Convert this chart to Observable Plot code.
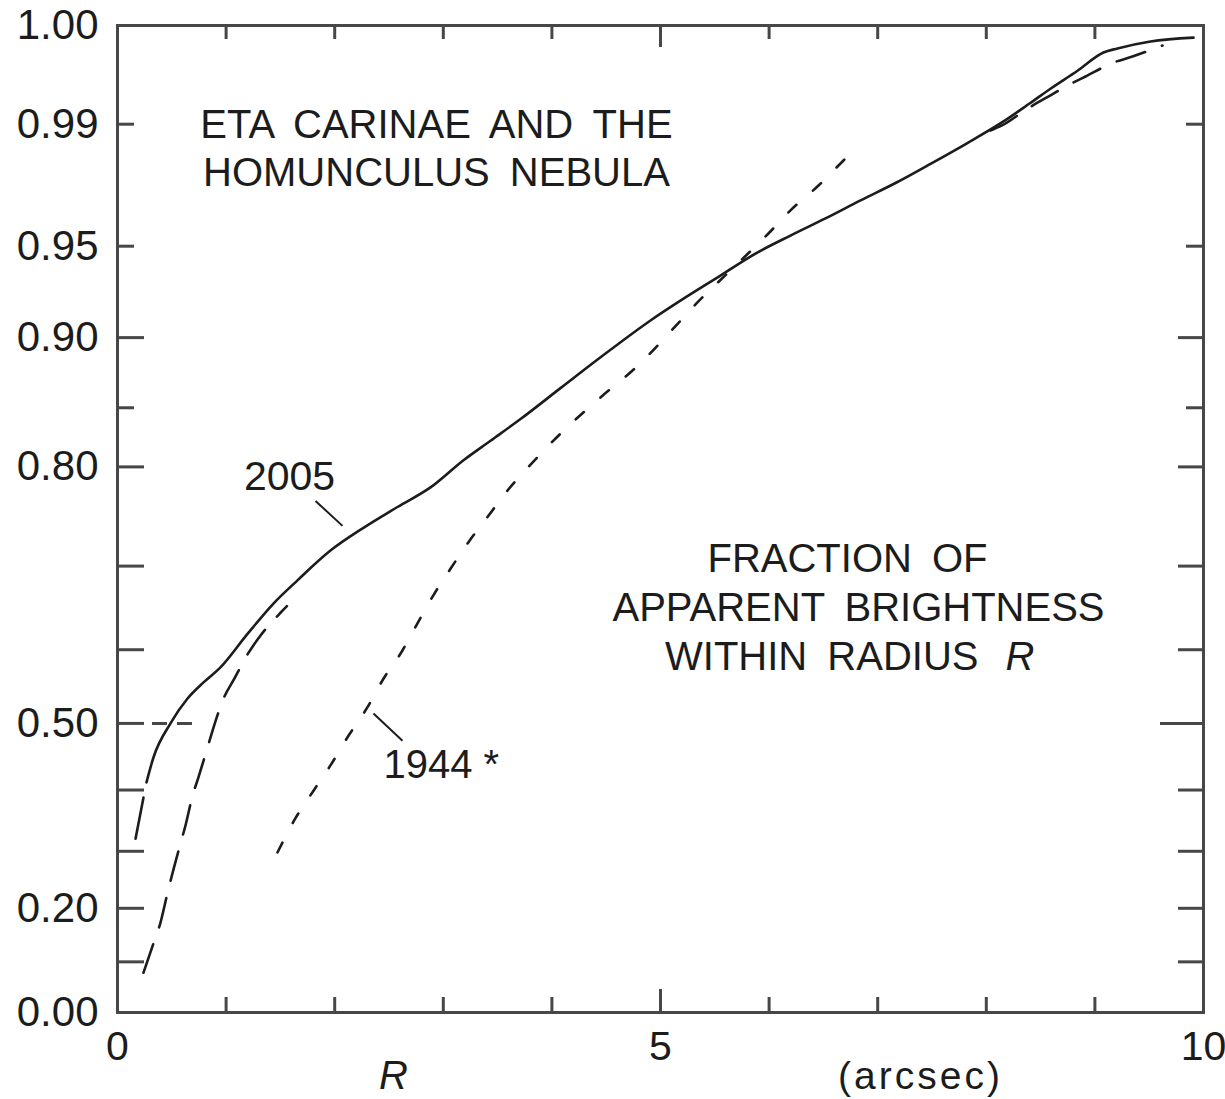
<!DOCTYPE html>
<html>
<head>
<meta charset="utf-8">
<script src="https://cdn.jsdelivr.net/npm/d3@7"></script>
<script src="https://cdn.jsdelivr.net/npm/@observablehq/plot@0.6"></script>
<style>
  html, body { margin: 0; padding: 0; background: #ffffff; }
  #chart svg { display: block; }
</style>
</head>
<body>
<div id="chart"></div>
<script>
// ---------------- data ----------------
// 2005 profile (solid)
const r2005 = [0.267, 0.331, 0.488, 0.645, 0.792, 0.948, 1.197, 1.436, 1.657, 1.961, 2.265, 2.578, 2.882, 3.186, 3.435, 3.711, 4.079, 4.448, 4.908, 5.230, 5.552, 5.875, 6.197, 6.519, 6.842, 7.173, 7.495, 7.818, 8.140, 8.398, 8.591, 8.840, 9.079, 9.208, 9.512, 9.908];
const f2005 = [0.412, 0.450, 0.500, 0.535, 0.557, 0.577, 0.620, 0.657, 0.684, 0.717, 0.741, 0.762, 0.781, 0.806, 0.823, 0.841, 0.865, 0.887, 0.9107, 0.9241, 0.9358, 0.9466, 0.9547, 0.9618, 0.9686, 0.9747, 0.9805, 0.9857, 0.9903, 0.99375, 0.9959, 0.9979, 0.99925, 0.99946, 0.99974, 0.99985];
// 2005 profile, extrapolated inner part (dashed)
const r2005ext = [0.166, 0.239, 0.267];
const f2005ext = [0.321, 0.388, 0.412];
// long-dashed profile, visible inner part
const rDashLow = [0.239, 0.331, 0.396, 0.460, 0.506, 0.580, 0.626, 0.691, 0.746, 0.829, 0.884, 0.976, 1.068, 1.206, 1.317, 1.501, 1.560];
const fDashLow = [0.079, 0.135, 0.174, 0.227, 0.262, 0.313, 0.343, 0.391, 0.420, 0.465, 0.494, 0.535, 0.560, 0.596, 0.618, 0.646, 0.654];
// long-dashed profile, visible outer part
const rDashHigh = [8.039, 8.140, 8.379, 8.591, 8.748, 8.914, 9.171, 9.346, 9.622];
const fDashHigh = [0.9887, 0.9897, 0.9929, 0.9950, 0.9963, 0.99733, 0.99859, 0.99901, 0.99959];
// 1944 profile (dotted)
const r1944 = [1.473, 1.639, 1.805, 1.961, 2.118, 2.302, 2.449, 2.624, 2.762, 2.910, 3.066, 3.232, 3.407, 3.591, 3.775, 4.079, 4.448, 4.816, 5.101, 5.331, 5.663, 5.994, 6.197, 6.455, 6.685, 6.750];
const f1944 = [0.298, 0.355, 0.399, 0.438, 0.480, 0.523, 0.562, 0.599, 0.633, 0.667, 0.697, 0.726, 0.752, 0.778, 0.799, 0.829, 0.858, 0.883, 0.9045, 0.9207, 0.9394, 0.9556, 0.9649, 0.9737, 0.9813, 0.9832];

// ticks
const yLabelTicks = [0.00, 0.20, 0.50, 0.80, 0.90, 0.95, 0.99, 1.00];
const yLongTicks = [0.1, 0.2, 0.3, 0.4, 0.5, 0.6, 0.7, 0.8, 0.9];
const yShortTicks = [0.85, 0.95, 0.99];
const xLabelTicks = [0, 5, 10];
const xMinorTicks = [1, 2, 3, 4, 6, 7, 8, 9];
const xMajorTicks = [5];

// annotations (data units)
const halfLevel = 0.5, halfFrom = 0.322, halfTo = 0.70;
const label2005 = {x: 1.584, f: 0.791, text: "2005"};
const leader2005 = {x1: 1.823, f1: 0.768, x2: 2.072, f2: 0.743};
const label1944 = {x: 2.449, f: 0.438, text: "1944 *"};
const leader1944 = {x1: 2.357, f1: 0.514, x2: 2.624, f2: 0.475};
const titleText = {x: 2.937, f: 0.98497, text: "ETA CARINAE AND THE\nHOMUNCULUS NEBULA"};
const noteLines = [
  {x: 6.722, f: 0.708, text: "FRACTION OF"},
  {x: 6.823, f: 0.652, text: "APPARENT BRIGHTNESS"}
];
const noteLast = {x: 7.928, f: 0.590, text: "WITHIN RADIUS"};
const noteR = {x: 8.177, f: 0.590, text: "R"};
const xNameR = {x: 2.541, text: "R"};
const xUnit = {x: 7.394, text: "(arcsec)"};

// ---------------- layout ----------------
const W = 1225, H = 1099;
const M = {top: 25, right: 22, bottom: 87, left: 117};
const FW = W - M.left - M.right;   // frame width
const FH = H - M.top - M.bottom;   // frame height
const ink = "#1c1c1c";
const frameInk = "#474747";
const font = "'Liberation Sans', Arial, Helvetica, sans-serif";

// y axis: scale is linear in sqrt(1 - fraction)
const q = f => 1 - f;
const pts = (rs, fs) => rs.map((r, i) => ({r, f: fs[i]}));

const chart = Plot.plot({
  width: W,
  height: H,
  marginTop: M.top,
  marginRight: M.right,
  marginBottom: M.bottom,
  marginLeft: M.left,
  x: {domain: [0, 10]},
  y: {type: "pow", exponent: 0.5, domain: [1, 0]},
  style: {fontFamily: font, background: "#ffffff", color: ink},
  marks: [
    // tick marks (inward), left and right
    Plot.ruleY(yLongTicks, {y: q, insetRight: FW - 27, stroke: frameInk, strokeWidth: 3}),
    Plot.ruleY(yShortTicks, {y: q, insetRight: FW - 17, stroke: frameInk, strokeWidth: 3}),
    Plot.ruleY(yLongTicks.filter(t => t !== halfLevel), {y: q, insetLeft: FW - 25, stroke: frameInk, strokeWidth: 3}),
    Plot.ruleY([halfLevel], {y: q, insetLeft: FW - 43, stroke: frameInk, strokeWidth: 3}),
    Plot.ruleY(yShortTicks, {y: q, insetLeft: FW - 17, stroke: frameInk, strokeWidth: 3}),
    // x ticks bottom / top
    Plot.ruleX(xMinorTicks, {insetTop: FH - 15, stroke: frameInk, strokeWidth: 3}),
    Plot.ruleX(xMajorTicks, {insetTop: FH - 23, stroke: frameInk, strokeWidth: 3}),
    Plot.ruleX(xMinorTicks, {insetBottom: FH - 14, stroke: frameInk, strokeWidth: 3}),
    Plot.ruleX(xMajorTicks, {insetBottom: FH - 22, stroke: frameInk, strokeWidth: 3}),
    // dashed reference at 0.50
    Plot.ruleY([halfLevel], {y: q, x1: halfFrom, x2: halfTo, stroke: frameInk, strokeWidth: 3, strokeDasharray: "15,10"}),
    Plot.frame({stroke: frameInk, strokeWidth: 3}),
    // axes labels
    Plot.axisY(yLabelTicks.map(q), {
      anchor: "left", tickSize: 0, tickPadding: 19, fontSize: 42, label: null,
      tickFormat: v => (1 - v).toFixed(2), fill: ink
    }),
    Plot.axisX(xLabelTicks, {anchor: "bottom", tickSize: 0, tickPadding: 18, fontSize: 41, label: null, fill: ink}),
    // curves
    Plot.line(pts(rDashLow, fDashLow), {x: "r", y: d => q(d.f), curve: "monotone-x", stroke: ink, strokeWidth: 2.6, strokeDasharray: "30,18"}),
    Plot.line(pts(rDashHigh, fDashHigh), {x: "r", y: d => q(d.f), curve: "monotone-x", stroke: ink, strokeWidth: 2.6, strokeDasharray: "30,18"}),
    Plot.line(pts(r1944, f1944), {x: "r", y: d => q(d.f), curve: "monotone-x", stroke: ink, strokeWidth: 2.6, strokeDasharray: "11,22"}),
    Plot.line(pts(r2005ext, f2005ext), {x: "r", y: d => q(d.f), curve: "monotone-x", stroke: ink, strokeWidth: 2.6, strokeDasharray: "42,20"}),
    Plot.line(pts(r2005, f2005), {x: "r", y: d => q(d.f), curve: "monotone-x", stroke: ink, strokeWidth: 2.6}),
    // leaders
    Plot.link([leader2005, leader1944], {x1: "x1", y1: d => q(d.f1), x2: "x2", y2: d => q(d.f2), stroke: ink, strokeWidth: 2}),
    // labels
    Plot.text([label2005], {x: "x", y: d => q(d.f), text: "text", fontSize: 41, fill: ink, lineAnchor: "middle"}),
    Plot.text([label1944], {x: "x", y: d => q(d.f), text: "text", fontSize: 40, fill: ink, textAnchor: "start", lineAnchor: "middle"}),
    Plot.text([titleText], {x: "x", y: d => q(d.f), text: "text", fontSize: 40, fill: ink, lineAnchor: "middle", lineHeight: 1.2}),
    Plot.text(noteLines, {x: "x", y: d => q(d.f), text: "text", fontSize: 40, fill: ink, lineAnchor: "middle"}),
    Plot.text([noteLast], {x: "x", y: d => q(d.f), text: "text", fontSize: 40, fill: ink, textAnchor: "end", lineAnchor: "middle"}),
    Plot.text([noteR], {x: "x", y: d => q(d.f), text: "text", fontSize: 40, fill: ink, textAnchor: "start", lineAnchor: "middle", fontStyle: "italic"}),
    Plot.text([xNameR], {x: "x", text: "text", frameAnchor: "bottom", dy: 64, fontSize: 40, fill: ink, lineAnchor: "middle", fontStyle: "italic"}),
    Plot.text([xUnit], {x: "x", text: "text", frameAnchor: "bottom", dy: 64, fontSize: 39, fill: ink, lineAnchor: "middle"})
  ]
});

document.getElementById("chart").appendChild(chart);

// wide word spacing of the original lettering
d3.select(chart).selectAll("text")
  .filter(function () { return /CARINAE|HOMUNCULUS|FRACTION|APPARENT|WITHIN/.test(this.textContent); })
  .style("word-spacing", "9px");
d3.select(chart).selectAll("text")
  .filter(function () { return this.textContent === "(arcsec)"; })
  .style("letter-spacing", "3px");
</script>
</body>
</html>
